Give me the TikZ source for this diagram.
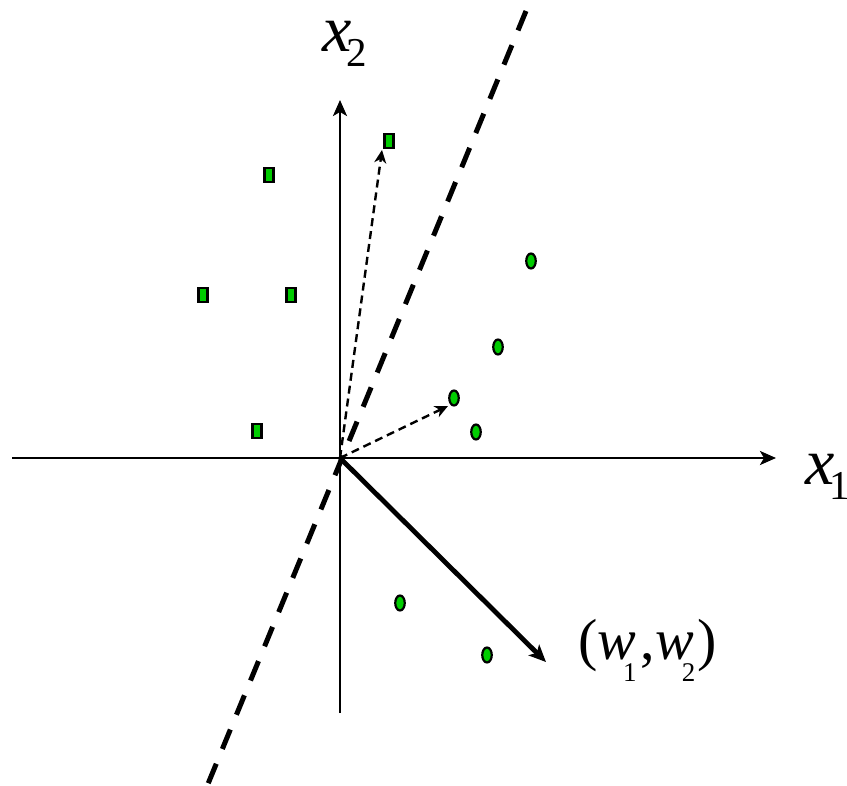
\documentclass[tikz,border=0pt]{standalone}
\usepackage{fontspec}
\setmainfont{Liberation Serif}
\usetikzlibrary{arrows.meta,shapes.geometric}
\definecolor{ptgreen}{RGB}{0,204,0}
\begin{document}
\begin{tikzpicture}[x=1pt,y=-1pt,
  sq/.style={draw=black,line width=2.2pt,fill=ptgreen,rectangle,minimum width=9pt,minimum height=14pt,inner sep=0pt},
  dot/.style={draw=black,line width=2.2pt,fill=ptgreen,ellipse,minimum width=9.5pt,minimum height=15pt,inner sep=0pt},
  axis/.style={line width=2.6pt,-{Stealth[length=16pt,width=14pt,inset=4pt]}},
  sep/.style={line width=5pt,dash pattern=on 21pt off 16pt},
  proj/.style={line width=2.4pt,dash pattern=on 8pt off 5pt,-{Stealth[length=13pt,width=12pt,inset=4pt]}},
  wvec/.style={line width=4.8pt,-{Stealth[length=17pt,width=15pt,inset=4pt]}},
  lab/.style={inner sep=0pt,font=\fontsize{66}{66}\selectfont}
]
\useasboundingbox (0,0) rectangle (847,786);
\fill[white] (0,0) rectangle (847,786);
\coordinate (O) at (340,458);
\coordinate (xl) at (12,458);
\coordinate (xr) at (776,458);
\coordinate (yb) at (340,713);
\coordinate (yt) at (340,100);
\coordinate (st) at (526,11);
\coordinate (sb) at (203,796);
\coordinate (wt) at (546,662);
\coordinate (p1) at (382,150);
\coordinate (p2) at (448,406);
% axes
\draw[axis] (xl) -- (xr);
\draw[axis] (yb) -- (yt);
% separator
\draw[sep] (st) -- (sb);
% markers
\node[sq] (s1) at (389,141) {};
\node[sq] (s2) at (269,175) {};
\node[sq] (s3) at (203,295) {};
\node[sq] (s4) at (291,295) {};
\node[sq] (s5) at (257,431) {};
\node[dot] (c1) at (531,261) {};
\node[dot] (c2) at (498,347) {};
\node[dot] (c3) at (454,398) {};
\node[dot] (c4) at (476,432) {};
\node[dot] (c5) at (400,603) {};
\node[dot] (c6) at (487,655) {};
% vectors
\draw[proj] (O) -- (p1);
\draw[proj] (O) -- (p2);
\draw[wvec] (O) -- (wt);
% labels
\node[lab,anchor=base west] (lx2) at (322,52) {\itshape x\kern-5pt\raisebox{-15pt}{\fontsize{41}{41}\selectfont\upshape 2}};
\node[lab,anchor=base west] (lx1) at (805,485) {\itshape x\kern-5pt\raisebox{-15pt}{\fontsize{41}{41}\selectfont\upshape 1}};
\node[inner sep=0pt,anchor=base west,font=\fontsize{58}{58}\selectfont] (lw) at (578,659) {(\textit{w}\kern-13pt\raisebox{-22pt}{\fontsize{27}{27}\selectfont 1}\kern4pt,\textit{w}\kern-12pt\raisebox{-22pt}{\fontsize{27}{27}\selectfont 2}\kern2pt)};
\end{tikzpicture}
\end{document}
